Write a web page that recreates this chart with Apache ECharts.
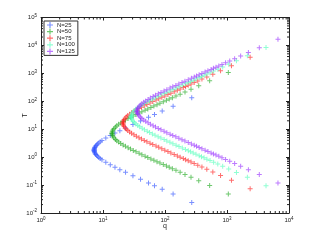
<!DOCTYPE html>
<html><head><meta charset="utf-8">
<script src="https://cdn.jsdelivr.net/npm/echarts@6/dist/echarts.min.js"></script>
<style>html,body{margin:0;padding:0;background:#fff}#c{width:320px;height:240px}</style>
</head><body><div id="c"></div>
<script>
const seriesNames = ['N=25','N=50','N=75','N=100','N=125'];
const xTickValues = [1,10,100,1000,10000];
const yTickValues = [0.01,0.1,1,10,100,1000,10000,100000];

const q25 = [270,135.1,90.1,67.7,54.2,40.3,30.4,23.1,18.7,15.6,13.1,11.1,9.62,9.0,8.53,8.16,7.88,7.66,7.50,7.38,7.29,7.24,7.21,7.2];
const tUp25 = [133.5,66.75,44.5,33.4,26.7,19.8,14.8,11.1,8.9,7.27,5.93,4.81,3.96,3.56,3.24,2.97,2.74,2.54,2.37,2.23,2.09,1.98,1.87,1.78];
const tLo25 = [0.0237,0.0475,0.0712,0.0949,0.1187,0.160,0.214,0.285,0.356,0.436,0.534,0.659,0.801,0.89,0.979,1.068,1.157,1.246,1.335,1.424,1.513,1.602,1.691,1.78];

const q50 = [1050,525.1,350.1,262.7,210.2,175.3,150.3,131.6,117.1,105.5,93.9,82.95,74.3,66.2,59.2,52.8,47.7,42.4,38.2,34.1,30.8,27.8,25.4,23.0,21.1,19.3,17.9,16.7,15.9,15.1,14.6,14.2,14.1,14.0];
const tUp50 = [1080,540,360,270,216,180,154.3,135,120,108,96,84.7,75.8,67.3,60,53.3,48,42.4,37.9,33.5,30,26.7,24,21.2,18.9,16.7,15,13.3,12,10.7,9.6,8.67,7.91,7.2];
const tLo50 = [0.048,0.096,0.144,0.192,0.24,0.288,0.336,0.384,0.432,0.48,0.54,0.612,0.684,0.770,0.864,0.972,1.08,1.224,1.368,1.548,1.728,1.944,2.16,2.448,2.736,3.096,3.456,3.888,4.32,4.824,5.4,5.976,6.552,7.2];

const q75 = [2362,1181,787,590.7,472.6,394,337.8,295.6,262.9,236.7,215.2,197.4,175.6,158.2,140.8,124.4,111.5,99.3,88.8,79.2,71.6,63.5,57.3,51.1,46.3,41.7,38.1,34.5,31.6,28.9,26.9,25.1,23.8,22.7,21.9,21.4,21.1,21.0];
const tUp75 = [3735,1868,1245,934,747,622.5,533.6,466.9,415,373.5,339.5,311.3,276.7,249,221.3,195.3,174.7,155.1,138.3,123.0,110.7,97.6,87.4,77.2,69.2,61.5,55.3,48.8,43.7,38.6,34.6,30.7,27.7,24.8,22.1,20.0,18.2,16.6];
const tLo75 = [0.0738,0.148,0.221,0.295,0.369,0.443,0.516,0.590,0.664,0.738,0.812,0.885,0.996,1.107,1.245,1.411,1.577,1.776,1.992,2.241,2.49,2.822,3.154,3.569,3.984,4.482,4.98,5.644,6.308,7.138,7.968,8.964,9.96,11.12,12.45,13.78,15.11,16.6];

const q100 = [4260,2130,1420,1065,852.2,710.3,608.9,532.9,473.8,426.5,387.8,355.6,316.2,284.7,259.0,237.5,213.9,190.4,168.3,150.8,134.2,120.0,107.1,96.8,85.9,77.4,69.1,62.6,56.4,51.6,46.6,42.8,39.1,36.4,34.0,32.2,30.7,29.6,28.9,28.5,28.4];
const tUp100 = [8490,4245,2830,2123,1698,1415,1213,1061,943.3,849,771.8,707.5,628.9,566,514.5,471.7,424.5,377.3,332.9,297.9,264.5,235.8,209.6,188.7,166.5,148.9,131.6,117.9,104.8,94.3,83.2,74.5,65.8,59.0,52.4,47.2,42.2,37.7,34.1,31.1,28.3];
const tLo100 = [0.0943,0.189,0.283,0.377,0.472,0.566,0.660,0.755,0.849,0.943,1.038,1.132,1.274,1.415,1.557,1.698,1.887,2.123,2.406,2.689,3.028,3.396,3.821,4.245,4.811,5.377,6.085,6.792,7.641,8.49,9.622,10.75,12.17,13.58,15.28,16.98,18.96,21.23,23.49,25.75,28.3];

const q125 = [6638,3319,2213,1660,1328,1107,948.6,830.1,738.0,664.3,604.0,553.7,492.3,443.2,394.1,354.9,322.8,296.1,266.7,237.3,209.7,188.0,167.3,149.6,133.5,120.7,107.1,96.5,86.1,78.0,70.3,64.3,58.1,53.3,48.8,45.4,42.3,40.1,38.3,36.9,36.0,35.6,35.4];
const tUp125 = [16650,8325,5550,4163,3330,2775,2379,2081,1850,1665,1514,1388,1233,1110,986.7,888,807.3,740,666,592,522.4,467.4,415.0,370,328.9,296,261.2,233.7,206.5,185,164.4,148,130.6,116.8,103.3,92.5,82.2,74,66.3,59.2,53.5,48.8,44.4];
const tLo125 = [0.118,0.237,0.355,0.474,0.592,0.710,0.829,0.947,1.066,1.184,1.302,1.421,1.598,1.776,1.998,2.22,2.442,2.664,2.96,3.33,3.774,4.218,4.751,5.328,5.994,6.66,7.548,8.436,9.546,10.66,11.99,13.32,15.10,16.87,19.09,21.31,23.98,26.64,29.75,33.3,36.85,40.4,44.4];

const colors = ['#3355ff','#22aa22','#ff2222','#55ffbb','#9933ff'];
const PLUS = 'path://M2,0H3V2H5V3H3V5H2V3H0V2H2Z';
const groups = [[q25,tUp25,tLo25],[q50,tUp50,tLo50],[q75,tUp75,tLo75],[q100,tUp100,tLo100],[q125,tUp125,tLo125]];

function branch(q, t){ return q.map((v,i)=>[v,t[i]]); }

const X_MIN = xTickValues[0], X_MAX = xTickValues[xTickValues.length-1];
const Y_MIN = yTickValues[0], Y_MAX = yTickValues[yTickValues.length-1];

function minorVals(lo, hi){ const out=[]; for(let e=lo;e<hi;e++){ for(let m=2;m<=9;m++) out.push(m*Math.pow(10,e)); } return out; }

const expFmt = v => '{b|10}{s|' + Math.round(Math.log10(v)) + '}';
const rich = { b:{fontSize:6, fontFamily:'Liberation Sans', color:'#222'}, s:{fontSize:4.5, fontFamily:'Liberation Sans', color:'#222', verticalAlign:'bottom', padding:[0,0,4,0]} };

const axisCommon = {
  type:'log', logBase:10, interval:1,
  axisLine:{show:true, lineStyle:{color:'#222', width:1}},
  axisTick:{show:true, inside:true, length:3, lineStyle:{color:'#222'}},
  splitLine:{show:false}
};

const scatterSeries = groups.map((g,i)=>({
  name: seriesNames[i], type:'scatter', symbol:PLUS, symbolSize:5,
  itemStyle:{color:colors[i], opacity:0.65},
  data: branch(g[0],g[1]).concat(branch(g[0],g[2])),
  z: 3 + i
}));

const minorX = {
  type:'custom', silent:true, z:10,
  data: minorVals(0,4).map(v=>[v,1]),
  renderItem:(p,api)=>{
    const b = api.coord([api.value(0), Y_MIN]);
    const t = api.coord([api.value(0), Y_MAX]);
    return {type:'group', children:[
      {type:'line', shape:{x1:b[0],y1:b[1],x2:b[0],y2:b[1]-2}, style:{stroke:'#222', lineWidth:1}},
      {type:'line', shape:{x1:t[0],y1:t[1],x2:t[0],y2:t[1]+2}, style:{stroke:'#222', lineWidth:1}}
    ]};
  }
};
const minorY = {
  type:'custom', silent:true, z:10,
  data: minorVals(-2,5).map(v=>[10,v]),
  renderItem:(p,api)=>{
    const l = api.coord([X_MIN, api.value(1)]);
    const r = api.coord([X_MAX, api.value(1)]);
    return {type:'group', children:[
      {type:'line', shape:{x1:l[0],y1:l[1],x2:l[0]+2,y2:l[1]}, style:{stroke:'#222', lineWidth:1}},
      {type:'line', shape:{x1:r[0],y1:r[1],x2:r[0]-2,y2:r[1]}, style:{stroke:'#222', lineWidth:1}}
    ]};
  }
};

const chart = echarts.init(document.getElementById('c'), null, {renderer:'canvas'});
chart.setOption({
  animation:false,
  backgroundColor:'#fff',
  grid:{left:41, right:31, top:17.5, bottom:27, containLabel:false, outerBoundsMode:'none'},
  legend:{
    data: seriesNames.map((n,i)=>({name:n, icon:PLUS})),
    orient:'vertical', left:44, top:21, itemWidth:6, itemHeight:6, itemGap:0.6,
    padding:[1,3,1,3], borderColor:'#333', borderWidth:1, backgroundColor:'#fff',
    textStyle:{fontSize:6, fontFamily:'Liberation Sans', color:'#222', padding:[0,0,0,-1]},
    selectedMode:false, z:20
  },
  xAxis:[
    Object.assign({}, axisCommon, {min:X_MIN, max:X_MAX, position:'bottom',
      name:'q', nameLocation:'middle', nameGap:10, nameMoveOverlap:false, nameTextStyle:{fontSize:7, fontFamily:'Liberation Sans', color:'#222'},
      axisLabel:{show:true, formatter:expFmt, rich:rich, margin:3}}),
    Object.assign({}, axisCommon, {min:X_MIN, max:X_MAX, position:'top', axisLabel:{show:false}})
  ],
  yAxis:[
    Object.assign({}, axisCommon, {min:Y_MIN, max:Y_MAX, position:'left',
      name:'T', nameLocation:'middle', nameGap:12, nameMoveOverlap:false, nameTextStyle:{fontSize:7, fontFamily:'Liberation Sans', color:'#222'},
      axisLabel:{show:true, formatter:expFmt, rich:rich, margin:4}}),
    Object.assign({}, axisCommon, {min:Y_MIN, max:Y_MAX, position:'right', axisLabel:{show:false}})
  ],
  series: scatterSeries.concat([minorX, minorY])
});
</script>
</body></html>
